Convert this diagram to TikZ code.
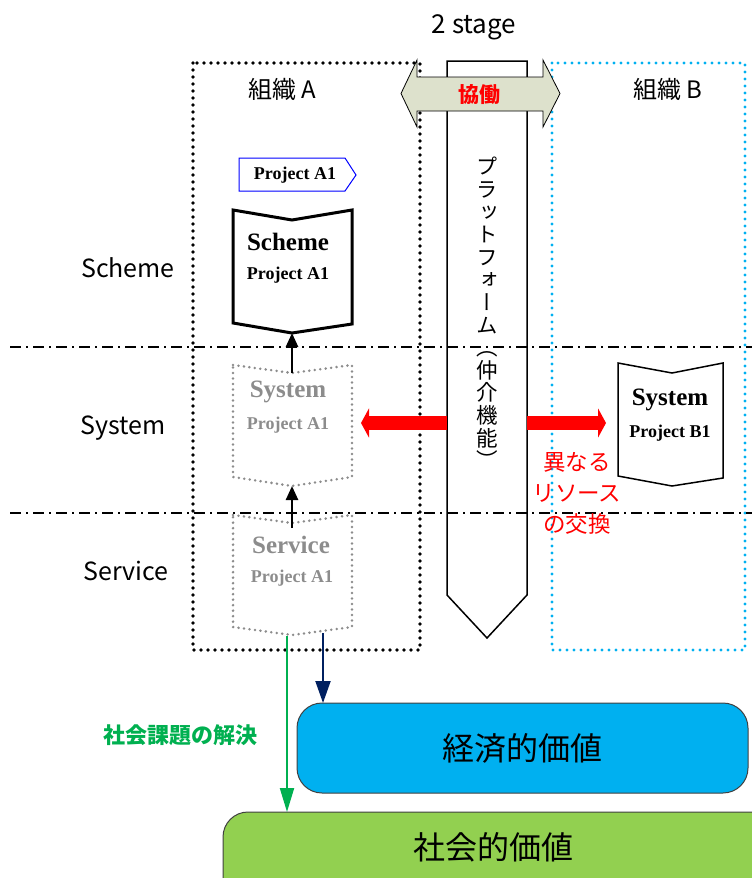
\documentclass[tikz,border=0pt]{standalone}
\usepackage{fontspec}
\setmainfont{Liberation Serif}
\newfontfamily\jp{Noto Sans CJK JP}
\newfontfamily\vjp[RawFeature=+vert]{Noto Sans CJK JP}
\usetikzlibrary{arrows.meta}
\definecolor{cyanB}{RGB}{0,176,240}
\definecolor{greenA}{RGB}{0,176,80}
\definecolor{navyA}{RGB}{0,32,96}
\definecolor{greenF}{RGB}{146,208,80}
\definecolor{kyodoF}{RGB}{221,225,204}
\definecolor{grayA}{RGB}{140,140,140}
\definecolor{redA}{RGB}{255,0,0}
\tikzset{
  orgA/.style={draw=black, line width=3.6pt, line cap=round, dash pattern=on 0pt off 7pt},
  orgB/.style={draw=cyanB, line width=3.2pt, line cap=round, dash pattern=on 0pt off 7pt},
  grayflag/.style={draw=grayA, line width=2.8pt, line cap=round, dash pattern=on 0pt off 5.5pt},
  dashdotline/.style={draw=black, line width=2pt, dash pattern=on 11pt off 5pt on 2pt off 5pt},
  levellabel/.style={font=\jp\fontsize{25}{28}\selectfont, inner sep=0},
  bigtitle/.style={font=\bfseries\fontsize{25}{28}\selectfont, inner sep=0},
  subtitle/.style={font=\bfseries\fontsize{18}{20}\selectfont, inner sep=0},
  uparrow/.style={draw=black, line width=2.5pt, -{Triangle[length=14pt,width=12pt]}},
  redarrow/.style={draw=redA, line width=14pt, -{Triangle[length=8pt,width=29pt]}},
  valuebox/.style={draw=black!75, line width=1pt, rounded corners=25pt},
  valuetext/.style={font=\jp\fontsize{32}{36}\selectfont, inner sep=0}
}
\begin{document}
\begin{tikzpicture}[x=1pt,y=-1pt]
\useasboundingbox (0,0) rectangle (752,878);
\clip (0,0) rectangle (752,878);

% organisation boxes
\draw[orgA] (193,63) rectangle (420,650);
\draw[orgB] (552,63) rectangle (745,650);
\node[font=\jp\fontsize{24}{27}\selectfont, inner sep=0] (orgAlabel) at (282,89) {組織 A};
\node[font=\jp\fontsize{24}{27}\selectfont, inner sep=0] (orgBlabel) at (668,89) {組織 B};

% stage title
\node[font=\jp\fontsize{26}{29}\selectfont, inner sep=0] (stage) at (474,27) {2 stage};

% platform
\draw[fill=white, line width=1.5pt] (447,61) -- (527,61) -- (527,595) -- (487,638) -- (447,595) -- cycle;
\coordinate (platL) at (447,423);
\coordinate (platR) at (527,423);
\node[font=\vjp\fontsize{21.5}{22.6}\selectfont, align=center, inner sep=0] (plattext) at (487,313)
 {プ\\ラ\\ッ\\ト\\フ\\ォ\\ー\\ム\\（\\仲\\介\\機\\能\\）};

% level separators
\draw[dashdotline] (10,347) -- (752,347);
\draw[dashdotline] (10,513) -- (752,513);

% level labels
\node[levellabel] (lscheme) at (128,268) {Scheme};
\node[levellabel] (lsystem) at (123,428) {System};
\node[levellabel] (lservice) at (126,571) {Service};

% collaboration double arrow
\draw[fill=kyodoF, line width=0.8pt] (401,93.5) -- (417,60) -- (417,77) -- (543,77) -- (543,60) -- (560,93.5)
  -- (543,127) -- (543,111) -- (417,111) -- (417,127) -- cycle;
\node[font=\jp\bfseries\fontsize{21}{24}\selectfont, text=redA, inner sep=0] (kyodo) at (479,95) {協働};

% project tag
\draw[draw=blue, line width=1pt, fill=white] (239,158) -- (345,158) -- (356,175) -- (345,191) -- (239,191) -- cycle;
\node[subtitle] (tag) at (295,175) {Project A1};

% Scheme A1
\draw[line width=3pt, fill=white] (233,210) -- (292,220) -- (352,210) -- (352,324) -- (292,333) -- (233,323) -- cycle;
\coordinate (schB) at (292,333);
\node[bigtitle] (schT) at (288,242) {Scheme};
\node[subtitle] (schP) at (288,275) {Project A1};

% System A1 (grey)
\draw[grayflag] (233,365) -- (292,373) -- (352,365) -- (352,477) -- (292,486) -- (233,477) -- cycle;
\coordinate (sysAT) at (292,373);
\coordinate (sysAB) at (292,486);
\node[bigtitle, text=grayA] (sysAT1) at (288,392) {System};
\node[subtitle, text=grayA] (sysAP) at (288,425) {Project A1};

% Service A1 (grey)
\draw[grayflag] (233,515) -- (292,523) -- (352,515) -- (352,627) -- (292,635) -- (233,627) -- cycle;
\coordinate (srvT) at (292,528);
\coordinate (srvG) at (287,636);
\coordinate (srvN) at (323,633);
\node[bigtitle, text=grayA] (srvT1) at (291,545) {Service};
\node[subtitle, text=grayA] (srvP) at (292,578) {Project A1};

% System B1
\draw[line width=1.5pt, fill=white] (618,363) -- (672,373) -- (723,363) -- (723,478) -- (672,486) -- (618,476) -- cycle;
\node[bigtitle] (sysBT) at (670,400) {System};
\node[subtitle] (sysBP) at (670,433) {Project B1};

% vertical arrows
\draw[uparrow] (sysAT) -- (schB);
\draw[uparrow] (srvT) -- (sysAB);

% resource exchange arrows
\coordinate (sysAR) at (361,423);
\coordinate (sysBL) at (606,423);
\draw[redarrow] (platL) -- (sysAR);
\draw[redarrow] (platR) -- (sysBL);
\node[font=\jp\fontsize{22.5}{31}\selectfont, text=redA, align=center, inner sep=0] (exch) at (577,493)
 {異なる\\リソース\\の交換};

% value boxes
\draw[valuebox, fill=cyanB] (297,703) rectangle (748,793);
\node[valuetext] (econ) at (522,748) {経済的価値};
\coordinate (econT) at (323,703);
\draw[valuebox, fill=greenF] (223,812) rectangle (800,920);
\node[valuetext] (soc) at (493,847) {社会的価値};
\coordinate (socT) at (287,812);

\draw[draw=navyA, line width=2pt, -{Triangle[length=22pt,width=15pt]}] (srvN) -- (econT);
\draw[draw=greenA, line width=2pt, -{Triangle[length=24pt,width=14pt]}] (srvG) -- (socT);
\node[font=\jp\bfseries\fontsize{22}{25}\selectfont, text=greenA, inner sep=0] (solve) at (180,735) {社会課題の解決};
\end{tikzpicture}
\end{document}
